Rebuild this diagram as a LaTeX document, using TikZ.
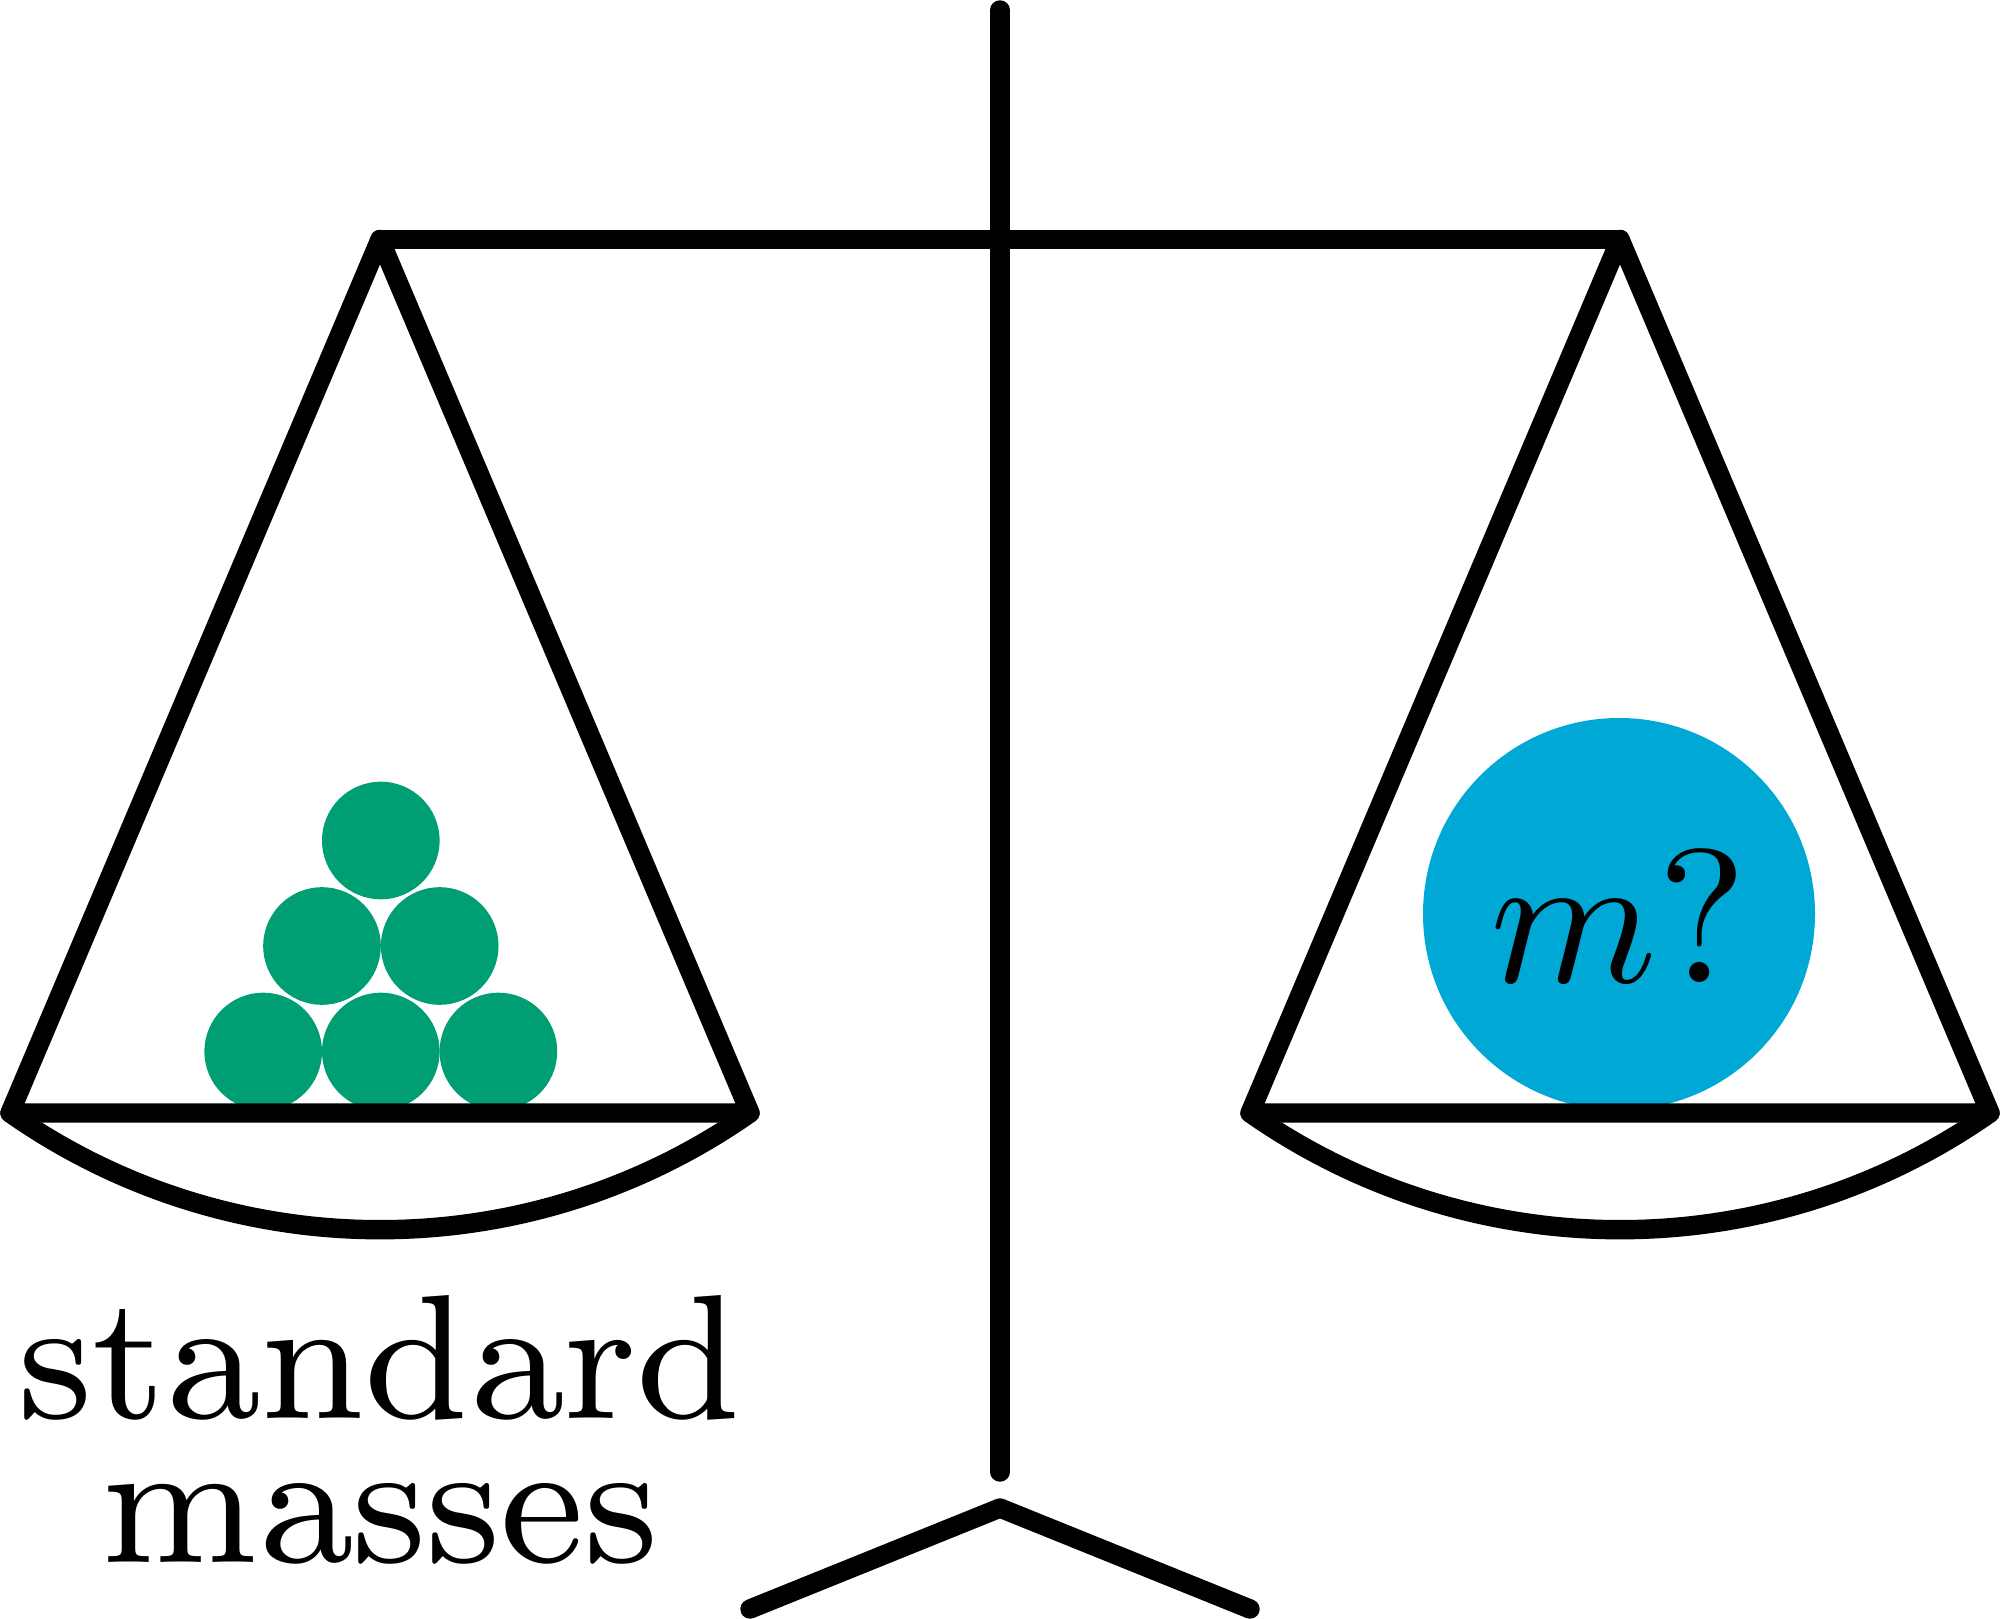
\documentclass[tikz,border=0pt]{standalone}
\definecolor{massgreen}{HTML}{009E73}
\definecolor{massblue}{HTML}{00A8D6}
\font\stdfont=cmr8 at 50.4pt
\font\mqital=cmmi10 at 54pt
\font\mqrm=cmr10 at 54pt
\begin{document}
\begin{tikzpicture}[x=0.01cm,y=-0.01cm,
  scaleline/.style={draw=black,line width=5.52pt,line cap=round,line join=round},
  greenmass/.style={fill=massgreen},
  bluemass/.style={fill=massblue},
  label/.style={inner sep=0pt,anchor=base}]
\useasboundingbox (0,0) rectangle (2000,1619);
% standard masses
\foreach \cx/\cy in {380.8/840.5, 322/946, 439.7/946, 263.2/1051.5, 380.8/1051.5, 498.4/1051.5}
  \fill[greenmass] (\cx,\cy) circle[radius=58.8];
% unknown mass
\fill[bluemass] (1619,914) circle[radius=196];
\node[label] (mq) at (1619,982) {{\mqital m}{\mqrm ?}};
% coordinates
\coordinate (LA) at (380,239.5);
\coordinate (LL) at (10,1113);
\coordinate (LR) at (750,1113);
\coordinate (RA) at (1620,239.5);
\coordinate (RL) at (1250,1113);
\coordinate (RR) at (1990,1113);
\coordinate (PT) at (1000,10);
\coordinate (PB) at (1000,1472);
\coordinate (BP) at (1000,1508);
\coordinate (BL) at (750,1609);
\coordinate (BR) at (1250,1609);
% pans
\draw[scaleline] (LL) -- (LA) -- (LR) -- cycle;
\draw[scaleline] (LL) .. controls +(222,155.6) and +(-222,155.6) .. (LR);
\draw[scaleline] (RL) -- (RA) -- (RR) -- cycle;
\draw[scaleline] (RL) .. controls +(222,155.6) and +(-222,155.6) .. (RR);
% beam, pole, base
\draw[scaleline] (LA) -- (RA);
\draw[scaleline] (PT) -- (PB);
\draw[scaleline] (BL) -- (BP) -- (BR);
% label
\node[label] (std1) at (380,1418) {\stdfont standard};
\node[label] (std2) at (380,1562) {\stdfont masses};
\end{tikzpicture}
\end{document}
